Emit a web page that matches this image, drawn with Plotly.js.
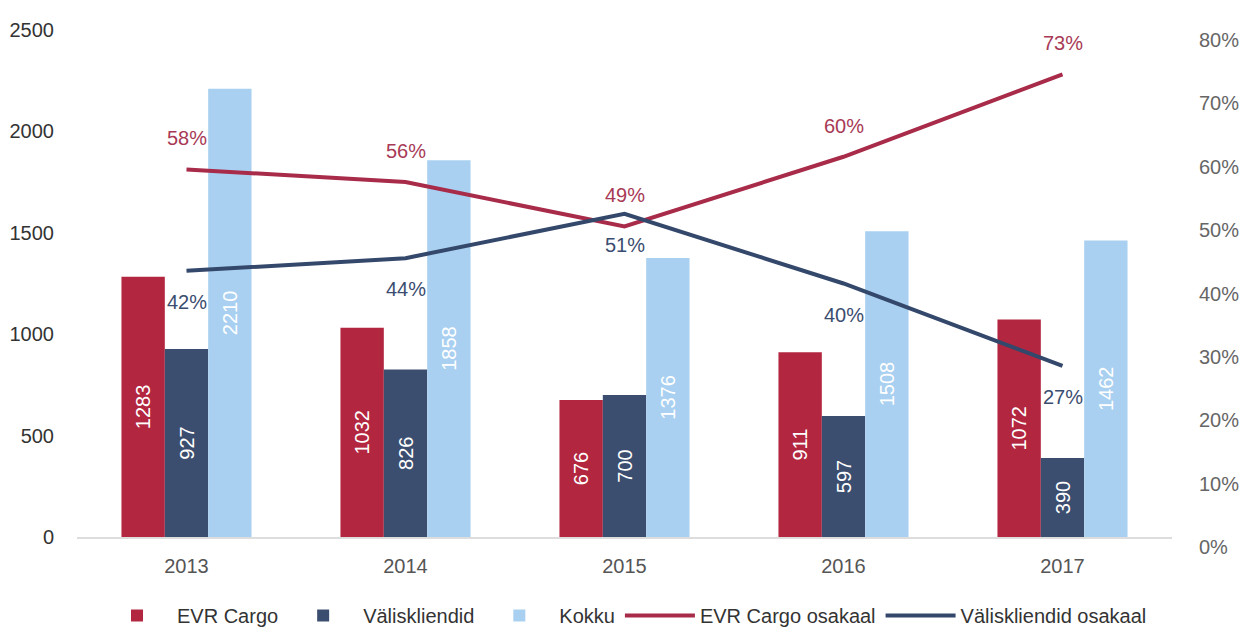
<!DOCTYPE html>
<html>
<head>
<meta charset="utf-8">
<script src="https://cdn.plot.ly/plotly-3.0.1.min.js"></script>
<style>
  html, body { margin: 0; padding: 0; background: #fff; }
  #chart { width: 1240px; height: 635px; }
</style>
</head>
<body>
<div id="chart"></div>
<script>
// Andmed
const years = ['2013', '2014', '2015', '2016', '2017'];
const evrCargo = [1283, 1032, 676, 911, 1072];
const valiskliendid = [927, 826, 700, 597, 390];
const kokku = [2210, 1858, 1376, 1508, 1462];
const evrShare = [0.58, 0.56, 0.49, 0.60, 0.73];
const valisShare = [0.42, 0.44, 0.51, 0.40, 0.27];

const font = '"Liberation Sans", Arial, sans-serif';
const red = '#b3263f';
const navy = '#3c4e6f';
const light = '#a9d0f0';

function barTrace(name, values, color) {
    return {
        x: years,
        y: values,
        name: name,
        type: 'bar',
        marker: { color: color },
        text: values.map(v => String(v)),
        textposition: 'inside',
        insidetextanchor: 'middle',
        textangle: -90,
        textfont: { family: font, size: 20, color: '#ffffff' }
    };
}

function lineTrace(name, values, color) {
    return {
        x: years,
        y: values,
        name: name,
        type: 'scatter',
        mode: 'lines',
        yaxis: 'y2',
        line: { color: color, width: 4 }
    };
}

const data = [
    barTrace('EVR Cargo', evrCargo, red),
    barTrace('Väliskliendid', valiskliendid, navy),
    barTrace('Kokku', kokku, light),
    lineTrace('EVR Cargo osakaal', evrShare, '#a82b49'),
    lineTrace('Väliskliendid osakaal', valisShare, '#34486b')
];

// protsendisildid joonte juures
const annotations = [];
years.forEach((yr, i) => {
    annotations.push({
        x: i, xref: 'x', y: evrShare[i], yref: 'y2', yshift: 31,
        text: Math.round(evrShare[i] * 100) + '%',
        showarrow: false,
        font: { family: font, size: 20, color: '#a83a56' }
    });
    annotations.push({
        x: i, xref: 'x', y: valisShare[i], yref: 'y2', yshift: -31,
        text: Math.round(valisShare[i] * 100) + '%',
        showarrow: false,
        font: { family: font, size: 20, color: '#3a4d70' }
    });
});

const layout = {
    width: 1240,
    height: 635,
    margin: { l: 77, r: 68, t: 30, b: 98, autoexpand: false },
    paper_bgcolor: '#ffffff',
    plot_bgcolor: '#ffffff',
    font: { family: font, size: 20, color: '#333' },
    barmode: 'group',
    bargap: 0.406,
    bargroupgap: 0,
    showlegend: true,
    legend: {
        orientation: 'h',
        x: 0.5,
        xanchor: 'center',
        yref: 'container',
        y: 0.0,
        yanchor: 'bottom',
        itemwidth: 70,
        font: { family: font, size: 20, color: '#333' },
        traceorder: 'normal'
    },
    xaxis: {
        type: 'category',
        range: [-0.5, 4.5],
        showgrid: false,
        showline: true,
        linecolor: '#dddddd',
        linewidth: 2,
        ticks: 'outside',
        ticklen: 10,
        tickcolor: 'rgba(0,0,0,0)',
        tickfont: { family: font, size: 20, color: '#555' }
    },
    yaxis: {
        range: [0, 2500],
        tickvals: [0, 500, 1000, 1500, 2000, 2500],
        showgrid: false,
        zeroline: false,
        showline: false,
        ticks: 'outside',
        ticklen: 18,
        tickcolor: 'rgba(0,0,0,0)',
        tickfont: { family: font, size: 20, color: '#333' }
    },
    yaxis2: {
        overlaying: 'y',
        side: 'right',
        range: [0, 0.8],
        tickvals: [0, 0.1, 0.2, 0.3, 0.4, 0.5, 0.6, 0.7, 0.8],
        tickformat: '.0%',
        showgrid: false,
        zeroline: false,
        showline: false,
        ticks: 'outside',
        ticklen: 22,
        tickcolor: 'rgba(0,0,0,0)',
        ticklabelshift: 10,
        tickfont: { family: font, size: 20, color: '#666' }
    },
    annotations: annotations
};

Plotly.newPlot('chart', data, layout, { displayModeBar: false, staticPlot: true });
</script>
</body>
</html>
